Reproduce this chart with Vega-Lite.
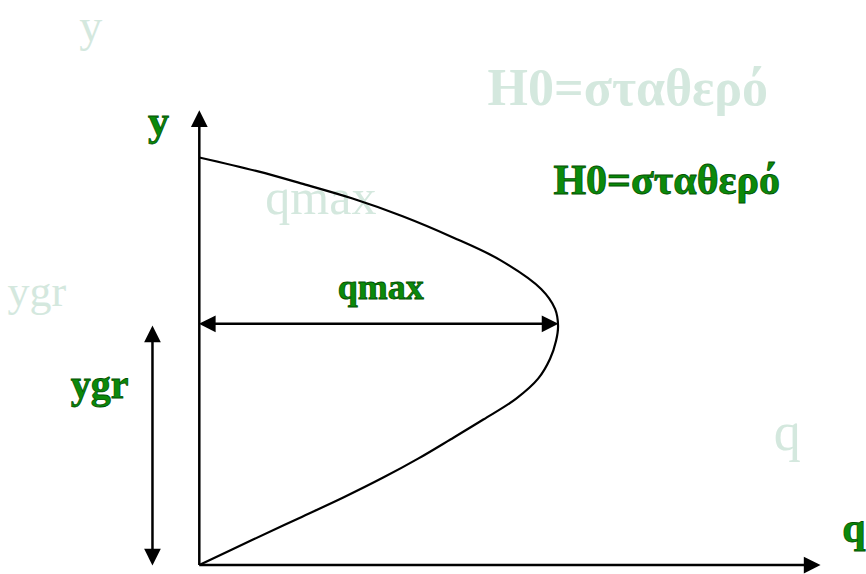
{
  "$schema": "https://vega.github.io/schema/vega-lite/v6.json",
  "width": 866,
  "height": 574,
  "padding": 0,
  "autosize": {"type": "fit", "contains": "padding"},
  "background": "white",
  "config": {"view": {"stroke": null}},
  "datasets": {
    "curve": [
      {"i": 0, "x": 200, "y": 567},
      {"i": 1, "x": 255, "y": 541},
      {"i": 2, "x": 300, "y": 520},
      {"i": 3, "x": 345, "y": 499},
      {"i": 4, "x": 385, "y": 479},
      {"i": 5, "x": 420, "y": 460},
      {"i": 6, "x": 452, "y": 441},
      {"i": 7, "x": 485, "y": 421},
      {"i": 8, "x": 518, "y": 400},
      {"i": 9, "x": 540, "y": 380},
      {"i": 10, "x": 552, "y": 360},
      {"i": 11, "x": 558, "y": 342},
      {"i": 12, "x": 560, "y": 327},
      {"i": 13, "x": 557, "y": 310},
      {"i": 14, "x": 543, "y": 290},
      {"i": 15, "x": 502, "y": 261},
      {"i": 16, "x": 454, "y": 238},
      {"i": 17, "x": 404, "y": 217},
      {"i": 18, "x": 353, "y": 199},
      {"i": 19, "x": 302, "y": 184},
      {"i": 20, "x": 259, "y": 172},
      {"i": 21, "x": 200, "y": 158}
    ],
    "rules": [
      {"x": 200, "y": 567, "x2": 200, "y2": 125},
      {"x": 200, "y": 567, "x2": 810, "y2": 567},
      {"x": 153, "y": 341, "x2": 153, "y2": 553},
      {"x": 214, "y": 325, "x2": 546, "y2": 325}
    ],
    "heads": [
      {"x": 200, "y": 119, "angle": 0},
      {"x": 815, "y": 567, "angle": 90},
      {"x": 153, "y": 335, "angle": 0},
      {"x": 153, "y": 559, "angle": 180},
      {"x": 208, "y": 325, "angle": 270},
      {"x": 552, "y": 325, "angle": 90}
    ],
    "ghostBold": [
      {"t": "H0=σταθερό", "x": 630, "y": 105, "size": 52}
    ],
    "ghost": [
      {"t": "y", "x": 91, "y": 41, "size": 46},
      {"t": "qmax", "x": 322, "y": 215, "size": 50},
      {"t": "ygr", "x": 37, "y": 307, "size": 44},
      {"t": "q", "x": 790, "y": 452, "size": 54}
    ],
    "green": [
      {"t": "y", "x": 159, "y": 135, "size": 42},
      {"t": "H0=σταθερό", "x": 669, "y": 195, "size": 42},
      {"t": "qmax", "x": 382, "y": 300, "size": 36},
      {"t": "ygr", "x": 100, "y": 399, "size": 40},
      {"t": "q", "x": 857, "y": 544, "size": 42}
    ]
  },
  "encoding": {
    "x": {"field": "x", "type": "quantitative", "scale": {"domain": [0, 866], "nice": false, "zero": false}, "axis": null},
    "y": {"field": "y", "type": "quantitative", "scale": {"domain": [574, 0], "nice": false, "zero": false}, "axis": null}
  },
  "layer": [
    {
      "data": {"name": "ghostBold"},
      "mark": {"type": "text", "font": "Liberation Serif", "fontWeight": "bold", "align": "center", "baseline": "alphabetic", "color": "#d4e8de"},
      "encoding": {
        "text": {"field": "t"},
        "size": {"field": "size", "type": "quantitative", "scale": null}
      }
    },
    {
      "data": {"name": "ghost"},
      "mark": {"type": "text", "font": "Liberation Serif", "align": "center", "baseline": "alphabetic", "color": "#d4e8de"},
      "encoding": {
        "text": {"field": "t"},
        "size": {"field": "size", "type": "quantitative", "scale": null}
      }
    },
    {
      "data": {"name": "curve"},
      "mark": {"type": "line", "color": "black", "strokeWidth": 2.2, "interpolate": "catmull-rom"},
      "encoding": {
        "order": {"field": "i", "type": "quantitative"}
      }
    },
    {
      "data": {"name": "rules"},
      "mark": {"type": "rule", "color": "black", "strokeWidth": 2.5},
      "encoding": {
        "x2": {"field": "x2"},
        "y2": {"field": "y2"}
      }
    },
    {
      "data": {"name": "heads"},
      "mark": {"type": "point", "shape": "M0,-1L1,1L-1,1Z", "filled": true, "color": "black", "opacity": 1, "size": 280},
      "encoding": {
        "angle": {"field": "angle", "type": "quantitative", "scale": null}
      }
    },
    {
      "data": {"name": "green"},
      "mark": {"type": "text", "font": "Liberation Serif", "fontWeight": "bold", "align": "center", "baseline": "alphabetic", "fill": "#0b8a0b", "stroke": "#005200", "strokeWidth": 0.8},
      "encoding": {
        "text": {"field": "t"},
        "size": {"field": "size", "type": "quantitative", "scale": null}
      }
    }
  ]
}
